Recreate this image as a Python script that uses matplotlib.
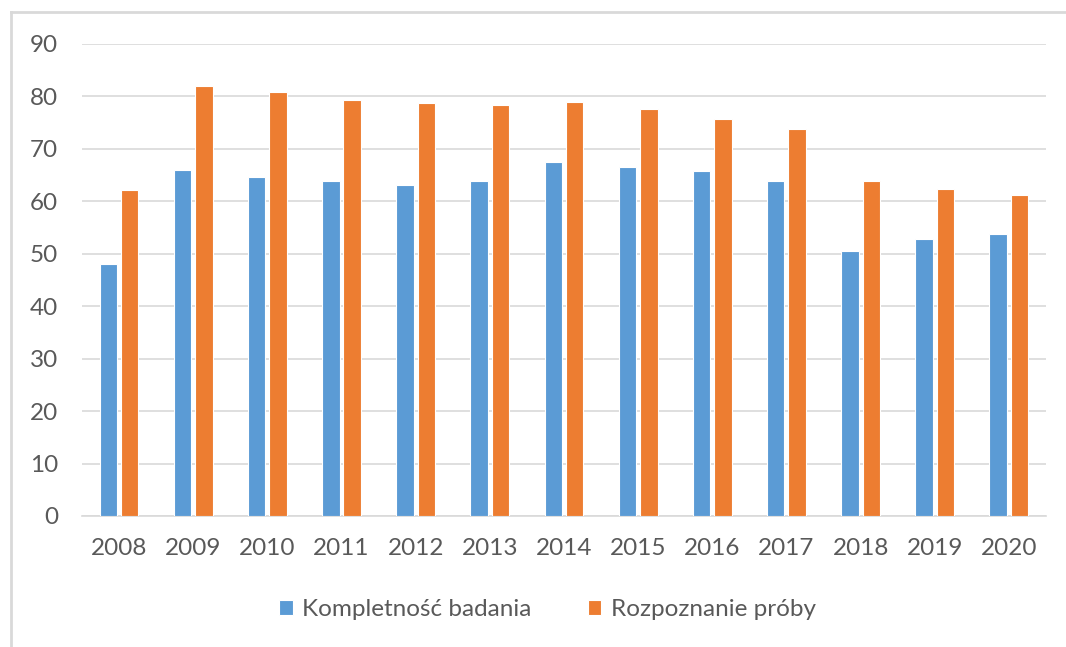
import numpy as np
import matplotlib.pyplot as plt
from matplotlib.lines import Line2D

plt.rcParams["font.family"] = ["Lato", "DejaVu Sans"]

years = ["2008", "2009", "2010", "2011", "2012", "2013", "2014",
         "2015", "2016", "2017", "2018", "2019", "2020"]
kompletnosc = [48.0, 65.9, 64.6, 63.8, 63.2, 63.8, 67.5, 66.6, 65.7, 63.8, 50.5, 52.9, 53.7]
rozpoznanie = [62.1, 82.0, 80.9, 79.3, 78.8, 78.4, 78.9, 77.6, 75.7, 73.8, 63.8, 62.4, 61.3]
series_names = ["Kompletność badania", "Rozpoznanie próby"]
y_ticks = [0, 10, 20, 30, 40, 50, 60, 70, 80, 90]

blue = "#5b9bd5"
orange = "#ed7d31"
text_col = "#595959"
grid_col = "#d9d9d9"

fig = plt.figure(figsize=(10.66, 6.47), dpi=100)
ax = fig.add_axes([0.0769, 0.2025, 0.9043, 0.7295])

x = np.arange(len(years))
w = 0.235
off = 0.144
ax.bar(x - off, kompletnosc, w, color=blue, edgecolor="white", linewidth=0.8,
       label=series_names[0], zorder=3)
ax.bar(x + off, rozpoznanie, w, color=orange, edgecolor="white", linewidth=0.8,
       label=series_names[1], zorder=3)

ax.set_xlim(-0.5, len(years) - 0.5)
ax.set_ylim(0, 90)
ax.set_yticks(y_ticks)
ax.set_xticks(x)
ax.set_xticklabels(years)
ax.grid(axis="y", color=grid_col, linewidth=1.2, zorder=0)
ax.tick_params(axis="both", length=0, labelsize=17.5, colors=text_col)
ax.tick_params(axis="y", pad=17)
ax.tick_params(axis="x", pad=16)
for s in ["top", "right", "left"]:
    ax.spines[s].set_visible(False)
ax.spines["bottom"].set_color(grid_col)
ax.spines["bottom"].set_linewidth(1.2)

leg = fig.legend(loc="center", bbox_to_anchor=(0.5136, 0.058), ncol=2, frameon=False,
                 fontsize=17.5, handlelength=0.55, handleheight=0.55, handletextpad=0.4,
                 columnspacing=2.3)
for t in leg.get_texts():
    t.set_color(text_col)

# light frame on top and left like the source screenshot
fig.add_artist(Line2D([11 / 1066, 1.0], [1 - 12 / 647, 1 - 12 / 647],
                      transform=fig.transFigure, color=grid_col, linewidth=2))
fig.add_artist(Line2D([11 / 1066, 11 / 1066], [0, 1 - 12 / 647],
                      transform=fig.transFigure, color=grid_col, linewidth=2))

fig.savefig("out.png", dpi=100)
